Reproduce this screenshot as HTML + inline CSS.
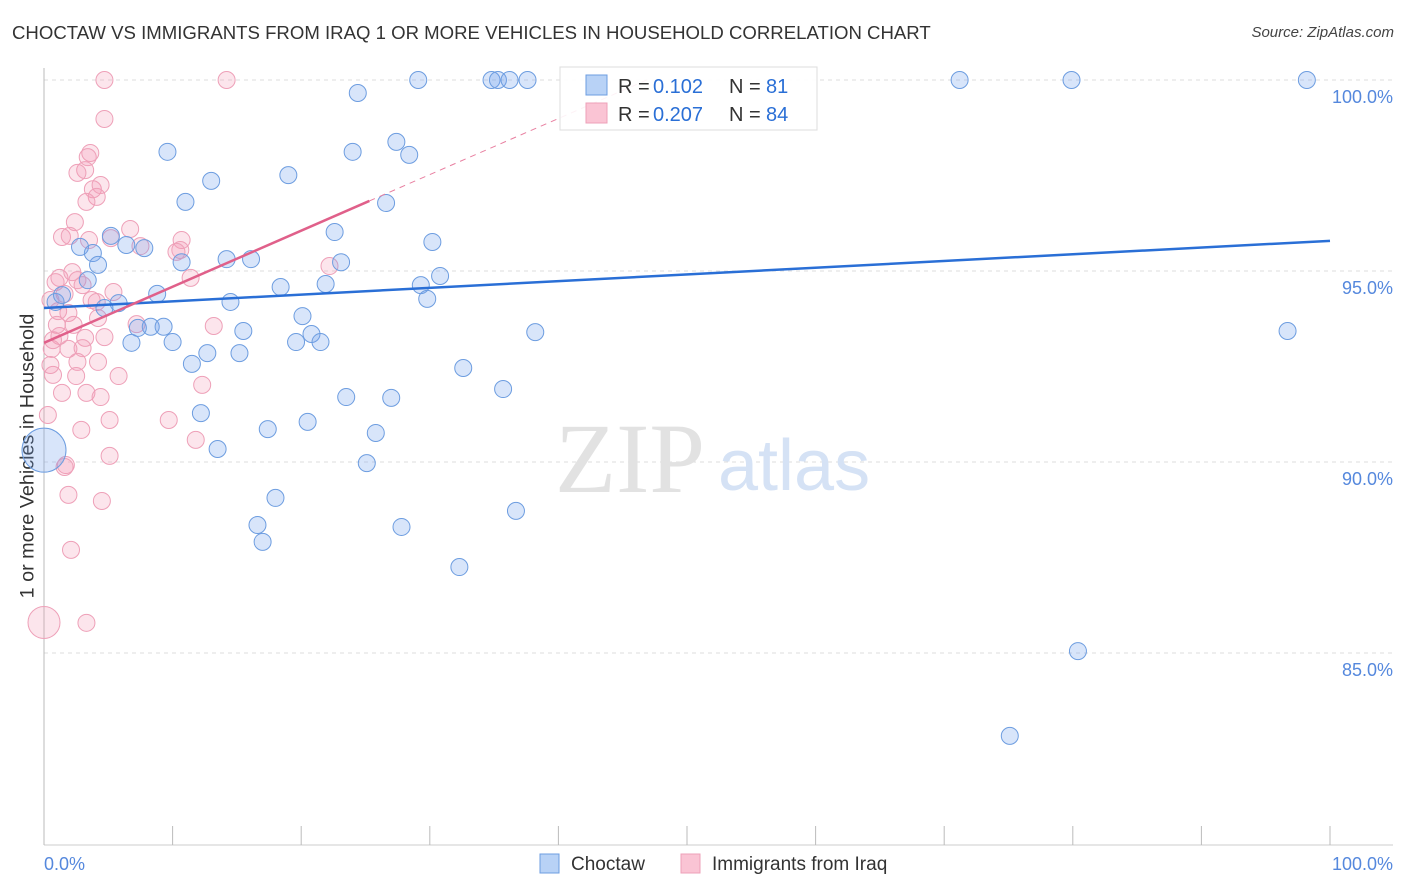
<!DOCTYPE html>
<html><head><meta charset="utf-8">
<style>
body{margin:0;background:#fff;font-family:"Liberation Sans",sans-serif;}
#wrap{position:relative;width:1406px;height:892px;overflow:hidden;}
.t{position:absolute;white-space:nowrap;}
</style></head>
<body>
<div id="wrap">
<div class="t" style="left:12px;top:22px;font-size:18.6px;color:#333;">CHOCTAW VS IMMIGRANTS FROM IRAQ 1 OR MORE VEHICLES IN HOUSEHOLD CORRELATION CHART</div>
<div class="t" style="right:12px;top:24px;font-size:15px;color:#444;font-style:italic;">Source: ZipAtlas.com</div>
<div class="t" style="left:28px;top:456px;font-size:19.8px;color:#333;transform:translate(-50%,-50%) rotate(-90deg);">1 or more Vehicles in Household</div>
<svg id="plot" width="1406" height="892" style="position:absolute;left:0;top:0"></svg>
</div>
<script>
const blueX=[29.1,34.8,35.3,36.2,37.6,71.2,79.9,98.2,24.4,9.6,24.0,27.4,28.4,19.0,13.0,11.0,26.6,5.2,6.4,7.8,2.8,22.6,30.2,3.8,4.2,10.7,14.2,16.1,23.1,30.8,3.4,18.4,21.9,29.3,0.9,1.4,8.8,5.8,14.5,29.8,4.7,20.1,7.3,8.3,9.3,15.5,38.2,96.7,6.8,10.0,19.6,20.8,21.5,12.7,15.2,11.5,32.6,35.7,23.5,27.0,12.2,20.5,17.4,25.8,13.5,25.1,18.0,16.6,36.7,27.8,17.0,32.3,80.4,75.1,0];
const blueY=[100,100,100,100,100,100,100,100,99.66,98.12,98.12,98.38,98.04,97.51,97.36,96.81,96.78,95.92,95.68,95.60,95.63,96.02,95.76,95.47,95.16,95.23,95.31,95.31,95.23,94.87,94.76,94.58,94.66,94.63,94.19,94.37,94.40,94.16,94.19,94.27,94.03,93.82,93.51,93.54,93.54,93.43,93.40,93.43,93.12,93.14,93.14,93.35,93.14,92.85,92.85,92.57,92.46,91.91,91.70,91.68,91.28,91.05,90.86,90.76,90.34,89.97,89.06,88.35,88.72,88.30,87.91,87.25,85.05,82.83,90.31];
const pinkX=[4.7,14.2,4.7,3.6,3.4,3.2,2.6,3.8,4.4,4.1,3.3,2.4,6.7,1.4,2.0,3.5,5.2,10.7,10.6,7.5,10.3,11.4,22.2,1.2,0.9,2.2,2.6,3.0,1.6,3.7,5.4,4.1,1.1,1.9,1.0,2.3,4.2,7.2,13.2,1.2,3.2,4.7,0.6,1.9,3.0,4.2,2.6,0.7,2.5,5.8,1.4,3.3,4.4,12.3,0.3,5.1,9.7,11.8,2.9,5.1,1.7,1.6,1.9,4.5,2.1,3.3,0.5,0.7,0.5,0];
const pinkY=[100,100,98.98,98.09,97.98,97.64,97.57,97.14,97.25,96.94,96.81,96.28,96.10,95.89,95.92,95.81,95.86,95.81,95.55,95.65,95.50,94.82,95.13,94.82,94.71,94.97,94.76,94.63,94.40,94.24,94.45,94.19,93.95,93.90,93.59,93.59,93.77,93.61,93.56,93.30,93.25,93.27,92.96,92.96,92.98,92.62,92.62,92.28,92.25,92.25,91.81,91.81,91.70,92.02,91.23,91.10,91.10,90.58,90.84,90.16,89.92,89.87,89.14,88.98,87.70,85.79,94.24,93.19,92.54,85.8];
const bigBlue=[74];const bigPink=[69];
const blueTrend=[94.03,95.79];
const pinkTrend=[93.12,0.1468];
const yTicks=[100,95,90,85];
const yTickLabels=["100.0%","95.0%","90.0%","85.0%"];
const xTicks=[0,10,20,30,40,50,60,70,80,90,100];

const NS="http://www.w3.org/2000/svg";
const svg=document.getElementById('plot');
const X0=44,X1=1330,Y100=80,PX=38.2;
const sx=v=>X0+(X1-X0)*v/100;
const sy=v=>Y100+(100-v)*PX;
function mk(tag,attrs,parent){const e=document.createElementNS(NS,tag);for(const k in attrs)e.setAttribute(k,attrs[k]);(parent||svg).appendChild(e);return e;}

yTicks.forEach((t,i)=>{
  const g=mk('line',{x1:44,x2:1393,y1:sy(t),y2:sy(t),stroke:'#ddd','stroke-dasharray':'4,4'});
  
  
  const tx=mk('text',{x:1393,y:sy(t)+23,'text-anchor':'end','font-size':18,fill:'#5588dd','font-family':'Liberation Sans, sans-serif'});
  tx.textContent=yTickLabels[i];
  
  
});
const ax=mk('line',{x1:44,x2:44,y1:68,y2:845,stroke:'#bbb'});


const bx=mk('line',{x1:44,x2:1393,y1:845,y2:845,stroke:'#ccc'});


xTicks.forEach(t=>{
  const l=mk('line',{x1:sx(t),x2:sx(t),y1:826,y2:845,stroke:'#bbb'});
  
  
});
[['0.0%',44,'start'],['100.0%',1393,'end']].forEach(a=>{
  const tx=mk('text',{x:a[1],y:870,'text-anchor':a[2],'font-size':18,fill:'#5588dd','font-family':'Liberation Sans, sans-serif'});
  tx.textContent=a[0];
  
  
});
const w1=mk('text',{x:555,y:492,'font-size':100,fill:'#e2e2e2','font-family':'Liberation Serif, serif'});w1.textContent='ZIP';


const w2=mk('text',{x:718,y:490,'font-size':72,fill:'#d5e2f5','font-family':'Liberation Sans, sans-serif'});w2.textContent='atlas';



function pts(xs,ys,big,fill,stroke,name){
  xs.forEach((x,i)=>{
    const r=big.includes(i)?(name==='choctaw-point'?22:16):8.5;
    const c=mk('circle',{cx:sx(x),cy:sy(ys[i]),r:r,fill:fill,stroke:stroke,'stroke-width':1});
    
    
  });
}
pts(pinkX,pinkY,bigPink,'rgba(244,150,180,0.25)','#eea0b8','iraq-point');
pts(blueX,blueY,bigBlue,'rgba(110,160,235,0.27)','#6d9de0','choctaw-point');

const bt=mk('line',{x1:sx(0),y1:sy(blueTrend[0]),x2:sx(100),y2:sy(blueTrend[1]),stroke:'#2a6fd6','stroke-width':2.5});


const pEnd=(100-pinkTrend[0])/pinkTrend[1];
const pd=mk('line',{x1:sx(25.3),y1:sy(pinkTrend[0]+pinkTrend[1]*25.3),x2:sx(pEnd),y2:sy(100),stroke:'#e87fa0','stroke-width':1,'stroke-dasharray':'6,5'});


const ps=mk('line',{x1:sx(0),y1:sy(pinkTrend[0]),x2:sx(25.3),y2:sy(pinkTrend[0]+pinkTrend[1]*25.3),stroke:'#e0608a','stroke-width':2.5});



const lg=mk('g',{});


mk('rect',{x:560,y:67,width:257,height:63,fill:'rgba(255,255,255,0.9)',stroke:'#ddd'},lg);
mk('rect',{x:586,y:75,width:21,height:20,fill:'#b8d2f6',stroke:'#6d9de0'},lg);
mk('rect',{x:586,y:103,width:21,height:20,fill:'#fac4d4',stroke:'#eea0b8'},lg);
[[93,'0.102','81'],[121,'0.207','84']].forEach(r=>{
  const a=mk('text',{x:618,y:r[0],'font-size':20,fill:'#333','font-family':'Liberation Sans, sans-serif'},lg);a.textContent='R = ';
  const b=mk('text',{x:653,y:r[0],'font-size':20,fill:'#2a6fd6','font-family':'Liberation Sans, sans-serif'},lg);b.textContent=r[1];
  const c=mk('text',{x:729,y:r[0],'font-size':20,fill:'#333','font-family':'Liberation Sans, sans-serif'},lg);c.textContent='N = ';
  const d=mk('text',{x:766,y:r[0],'font-size':20,fill:'#2a6fd6','font-family':'Liberation Sans, sans-serif'},lg);d.textContent=r[2];
});
[[540,'#b8d2f6','#6d9de0','Choctaw',571,'legend-choctaw'],[681,'#fac4d4','#eea0b8','Immigrants from Iraq',712,'legend-iraq']].forEach(l=>{
  const g=mk('g',{});
  
  
  mk('rect',{x:l[0],y:854,width:19,height:19,fill:l[1],stroke:l[2]},g);
  const t=mk('text',{x:l[4],y:870,'font-size':19,fill:'#333','font-family':'Liberation Sans, sans-serif'},g);t.textContent=l[3];
});
</script>
</body></html>
